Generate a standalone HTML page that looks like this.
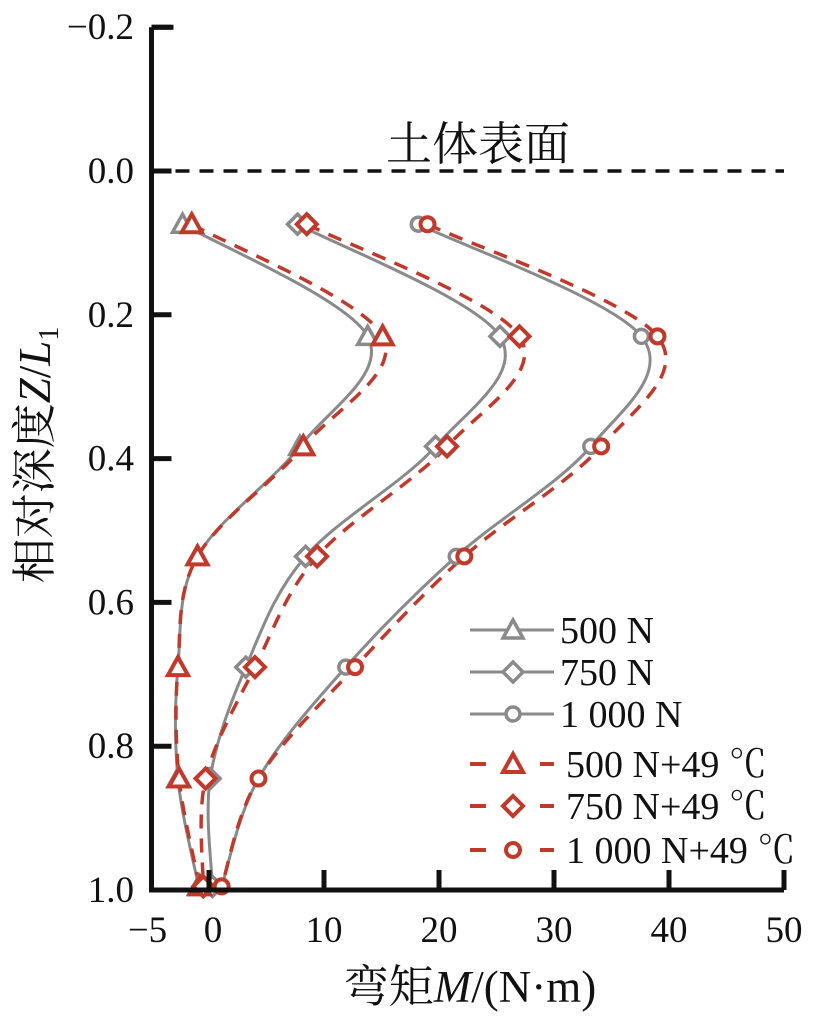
<!DOCTYPE html>
<html><head><meta charset="utf-8"><style>
body{margin:0;background:#fff}
svg text{font-family:"Liberation Serif","Noto Serif CJK SC",serif;fill:#111}
</style></head><body>
<svg id="chart" width="827" height="1017" viewBox="0 0 827 1017" xmlns="http://www.w3.org/2000/svg">
<g id="marks"></g>
</svg>
<script>
const xTicks=[-5,0,10,20,30,40,50];
const xTickLabels=["−5","0","10","20","30","40","50"];
const yTicks=[-0.2,0,0.2,0.4,0.6,0.8,1.0];
const yTickLabels=["−0.2","0.0","0.2","0.4","0.6","0.8","1.0"];
const depths=[0.074,0.23,0.383,0.536,0.69,0.845,0.995];
const m500=[-2.3,13.8,7.9,-1.0,-2.7,-2.7,-0.9];
const m750=[7.7,25.3,19.7,8.4,3.2,0.1,0.3];
const m1000=[18.2,37.6,33.2,21.5,11.9,4.3,1.1];
const m500T=[-1.5,15.1,8.2,-1.0,-2.7,-2.6,-0.8];
const m750T=[8.5,27.0,20.7,9.4,4.0,-0.3,-0.5];
const m1000T=[19.0,39.0,34.1,22.2,12.7,4.3,1.1];
const seriesNames=["500 N","750 N","1 000 N","500 N+49 ℃","750 N+49 ℃","1 000 N+49 ℃"];

const X=v=>209+11.5*v, Y=d=>171+719*d;
const svg=document.getElementById('chart'), NS="http://www.w3.org/2000/svg";
function mk(tag,attrs,parent){const e=document.createElementNS(NS,tag);for(const k in attrs)e.setAttribute(k,attrs[k]);(parent||svg).appendChild(e);return e;}
const GRAY="#8a8a8a", RED="#c0392b";

let ax=mk('path',{d:`M${X(-5)} ${Y(-0.2)}H${X(-5)+22}M${X(-5)} ${Y(-0.2)}V${Y(1)}H${X(50)}`,fill:'none',stroke:'#111','stroke-width':5});


xTicks.forEach((v,i)=>{
  if(i>0){let t=mk('line',{x1:X(v),x2:X(v),y1:Y(1),y2:Y(1)-20,stroke:'#111','stroke-width':5});
  
  }
  let l=mk('text',{x:X(v)+(i==0?-4:(i==1?4:0)),y:942,'text-anchor':'middle','font-size':37});l.textContent=xTickLabels[i];
  
  
});
yTicks.forEach((v,i)=>{
  let t=mk('line',{x1:X(-5),x2:X(-5)+20,y1:Y(v),y2:Y(v),stroke:'#111','stroke-width':5});
  
  
  let l=mk('text',{x:134,y:Y(v)+12,'text-anchor':'end','font-size':37});l.textContent=yTickLabels[i];
  
  
});
let sl=mk('line',{x1:X(-5),x2:X(50),y1:Y(0),y2:Y(0),stroke:'#111','stroke-width':3.5,'stroke-dasharray':'14 10'});


let st=mk('text',{x:478,y:160,'text-anchor':'middle','font-size':46});st.textContent="土体表面";


let xt=mk('text',{x:470,y:1002,'text-anchor':'middle','font-size':45});
xt.innerHTML='弯矩<tspan font-style="italic">M</tspan>/(N·m)';


let yt=mk('text',{transform:'translate(50,455) rotate(-90)','text-anchor':'middle','font-size':45});
yt.innerHTML='相对深度<tspan font-style="italic">Z</tspan>/<tspan font-style="italic">L</tspan><tspan font-size="28" dy="8">1</tspan>';



function curve(pts){let d=`M${pts[0][0]} ${pts[0][1]}`;
  for(let i=0;i<pts.length-1;i++){const p0=pts[i-1]||pts[i],p1=pts[i],p2=pts[i+1],p3=pts[i+2]||p2;
    d+=`C${p1[0]+(p2[0]-p0[0])/6} ${p1[1]+(p2[1]-p0[1])/6} ${p2[0]-(p3[0]-p1[0])/6} ${p2[1]-(p3[1]-p1[1])/6} ${p2[0]} ${p2[1]}`;}
  return d;}
function marker(type,cx,cy,color,sw,g){
  let e;
  if(type=='tri')e=mk('path',{d:`M${cx} ${cy-10}L${cx+10} ${cy+8}L${cx-10} ${cy+8}Z`},g);
  else if(type=='dia')e=mk('path',{d:`M${cx} ${cy-10}L${cx+10} ${cy}L${cx} ${cy+10}L${cx-10} ${cy}Z`},g);
  else e=mk('circle',{cx,cy,r:7},g);
  e.setAttribute('fill','#fff');e.setAttribute('stroke',color);e.setAttribute('stroke-width',sw);
  return e;}
const series=[[m500,'tri',GRAY,false],[m750,'dia',GRAY,false],[m1000,'cir',GRAY,false],[m500T,'tri',RED,true],[m750T,'dia',RED,true],[m1000T,'cir',RED,true]];
const g=document.getElementById('marks');
series.forEach((s,si)=>{
  const pts=s[0].map((v,i)=>[X(v),Y(depths[i])]);
  let p=mk('path',{d:curve(pts),fill:'none',stroke:s[2],'stroke-width':s[3]?3.5:3,'stroke-dasharray':s[3]?'14 10':'none'},g);
  
  
});
series.forEach((s,si)=>{
  s[0].forEach((v,i)=>{let m=marker(s[1],X(v),Y(depths[i]),s[2],s[3]?4:3.5,g);
    
    });
});
const legY=[630,672,714,764,806,850];
series.forEach((s,si)=>{
  const y=legY[si];
  if(s[3]){let a=mk('path',{d:`M470 ${y}H486M540 ${y}H554`,stroke:s[2],'stroke-width':4});
    
    }
  else {let a=mk('path',{d:`M470 ${y}H554`,stroke:s[2],'stroke-width':3});
    
    }
  let m=marker(s[1],513,y,s[2],s[3]?4:3.5);
  
  
  let t=mk('text',{x:s[3]?566:560,y:y+13,'font-size':38});t.textContent=seriesNames[si];
  
  
});
</script>
</body></html>
